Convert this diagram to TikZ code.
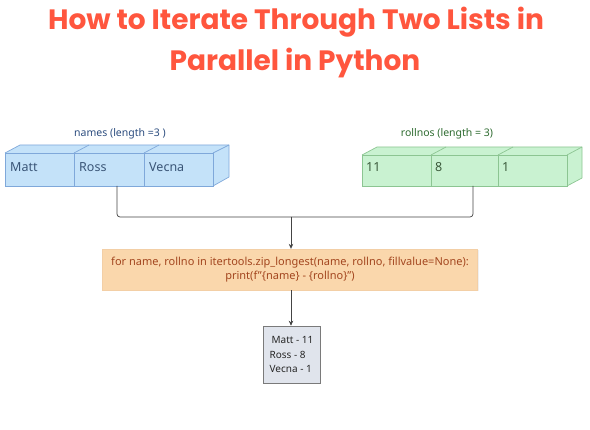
\documentclass[tikz,border=0pt]{standalone}
\usepackage{fontspec}
\setmainfont{Noto Sans}
\newfontfamily\titlefont{Poppins}
\usetikzlibrary{arrows.meta,shadows}
\definecolor{titlec}{HTML}{FF563E}
\definecolor{bluefill}{HTML}{C4E2F9}
\definecolor{bluestroke}{HTML}{7FA8DA}
\definecolor{bluetext}{HTML}{3A5577}
\definecolor{bluelabel}{HTML}{2B4C7E}
\definecolor{greenfill}{HTML}{C9F2D1}
\definecolor{greenstroke}{HTML}{8CC592}
\definecolor{greentext}{HTML}{3B5A3B}
\definecolor{greenlabel}{HTML}{2E6B30}
\definecolor{codefill}{HTML}{FAD7AC}
\definecolor{codeedge}{HTML}{F3CFA6}
\definecolor{codetext}{HTML}{A3461F}
\definecolor{outfill}{HTML}{E0E4EC}
\definecolor{outstroke}{HTML}{7A7A7A}
\definecolor{linec}{HTML}{444444}
\tikzset{
  titletext/.style={font=\titlefont\bfseries\fontsize{28}{32}\selectfont, text=titlec, inner sep=0pt},
  bcell/.style={draw=bluestroke, fill=bluefill, line width=0.7pt, minimum height=33pt, inner sep=0pt},
  gcell/.style={draw=greenstroke, fill=greenfill, line width=0.7pt, minimum height=33pt, inner sep=0pt},
  celltext/.style={font=\fontsize{12.5}{14}\selectfont, anchor=west, inner sep=0pt},
  lbl/.style={font=\fontsize{10.5}{12}\selectfont, inner sep=0pt},
  codebox/.style={fill=codefill, draw=codeedge, line width=0.3pt, minimum width=375pt, minimum height=41pt, align=center, text=codetext, font=\fontsize{11}{14}\selectfont, drop shadow={shadow xshift=1pt, shadow yshift=-1pt, opacity=0.12}},
  outbox/.style={fill=outfill, draw=outstroke, line width=0.6pt, minimum width=57pt, minimum height=57pt, align=left, text=black!85, font=\fontsize{10}{14.5}\selectfont},
  conn/.style={draw=linec, line width=0.7pt, rounded corners=3pt},
  arr/.style={conn, -{Stealth[length=5pt,width=4.5pt]}}
}
\begin{document}
\begin{tikzpicture}[x=1pt,y=-1pt]
\useasboundingbox (0,0) rectangle (590,430);
% title
\node[titletext] (t1) at (296,22) {How to Iterate Through Two Lists in};
\node[titletext] (t2) at (295,63) {Parallel in Python};

% left 3D box
\fill[bluefill] (5,153) -- (20,145) -- (229,145) -- (213,153) -- cycle;
\fill[bluefill] (213,153) -- (229,145) -- (229,177) -- (213,186) -- cycle;
\draw[bluestroke, line width=0.7pt, line join=round] (5,153) -- (20,145) -- (229,145) -- (229,177) -- (213,186);
\draw[bluestroke, line width=0.7pt] (213,153) -- (229,145);
\draw[bluestroke, line width=0.7pt] (74,153) -- (89,145);
\draw[bluestroke, line width=0.7pt] (144,153) -- (159,145);
\node[bcell, minimum width=69pt] (matt) at (39.5,169.5) {};
\node[bcell, minimum width=70pt] (ross) at (109,169.5) {};
\node[bcell, minimum width=69pt] (vecna) at (178.5,169.5) {};
\node[celltext, text=bluetext] at (10,167) {Matt};
\node[celltext, text=bluetext] at (79,167) {Ross};
\node[celltext, text=bluetext] at (149,167) {Vecna};
\node[lbl, text=bluelabel] (lnames) at (120,134) {names (length =3 )};
\coordinate (lout) at (117,186);

% right 3D box
\fill[greenfill] (362,155) -- (377,147) -- (582,147) -- (567,155) -- cycle;
\fill[greenfill] (567,155) -- (582,147) -- (582,178) -- (567,186) -- cycle;
\draw[greenstroke, line width=0.7pt, line join=round] (362,155) -- (377,147) -- (582,147) -- (582,178) -- (567,186);
\draw[greenstroke, line width=0.7pt] (567,155) -- (582,147);
\draw[greenstroke, line width=0.7pt] (431,155) -- (446,147);
\draw[greenstroke, line width=0.7pt] (498,155) -- (513,147);
\node[gcell, minimum width=69pt, minimum height=31pt] (r11) at (396.5,170.5) {};
\node[gcell, minimum width=67pt, minimum height=31pt] (r8) at (464.5,170.5) {};
\node[gcell, minimum width=69pt, minimum height=31pt] (r1) at (532.5,170.5) {};
\node[celltext, text=greentext] at (366,167) {11};
\node[celltext, text=greentext] at (435,167) {8};
\node[celltext, text=greentext] at (502,167) {1};
\node[lbl, text=greenlabel] (lroll) at (447,134) {rollnos (length = 3)};
\coordinate (rout) at (473,186);

% code box
\node[codebox] (code) at (290,269.5) {for name, rollno in itertools.zip\_longest(name, rollno, fillvalue=None):\\print(f"\{name\} - \{rollno\}")};

% output box
\node[outbox] (out) at (291.5,354.5) {\hspace*{2pt}Matt - 11\\Ross - 8\\Vecna - 1};

% connectors
\coordinate (j) at (291,217);
\draw[conn] (lout) |- (j);
\draw[conn] (rout) |- (j);
\draw[arr] (j) -- (j |- code.north);
\draw[arr] (code.south -| j) -- (j |- out.north);
\end{tikzpicture}
\end{document}
